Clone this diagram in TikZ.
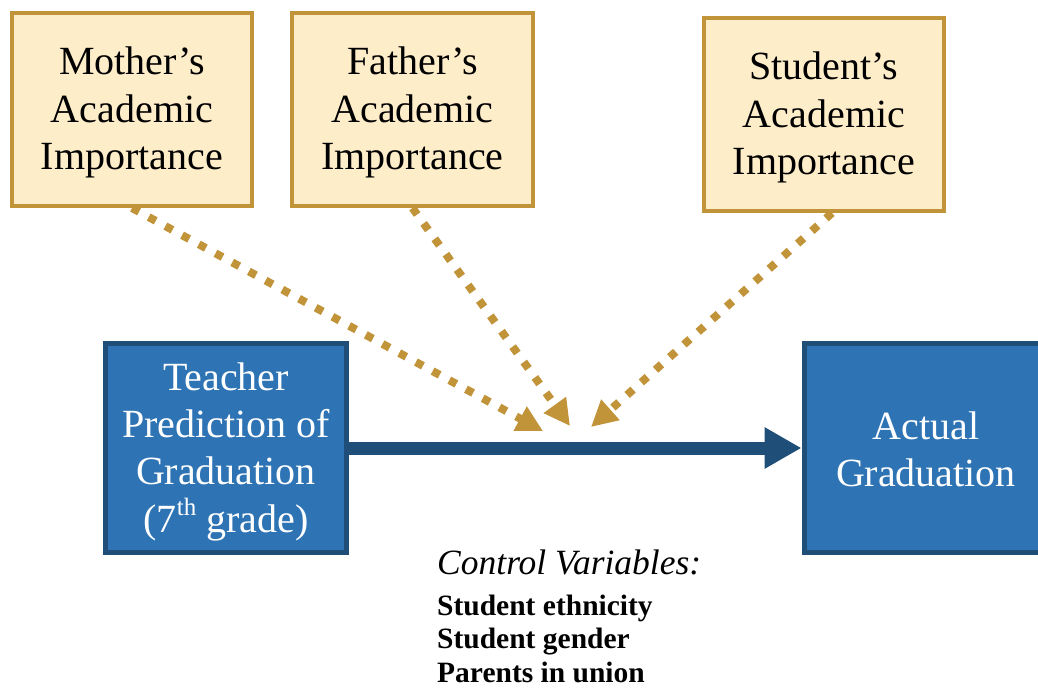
\documentclass[tikz,border=0pt]{standalone}
\usepackage{fontspec}
\setmainfont{Liberation Serif}
\usetikzlibrary{arrows.meta}

\definecolor{goldline}{HTML}{C1943A}
\definecolor{goldfill}{HTML}{FEEDC9}
\definecolor{bluefill}{HTML}{2E74B5}
\definecolor{blueline}{HTML}{1F4E79}

% stacked, centred lines; the first baseline sits #1 above the box centre
\newcommand{\boxlines}[2]{\raisebox{#1}[0pt][0pt]{\begin{tabular}[t]{@{}c@{}}#2\end{tabular}}}

\tikzset{
  factorbox/.style={draw=goldline, fill=goldfill, line width=4bp,
    minimum width=240bp, minimum height=193bp, inner sep=0pt,
    text=black, font=\fontsize{40bp}{47.5bp}\selectfont},
  outcomebox/.style={draw=blueline, fill=bluefill, line width=5bp,
    minimum height=209bp, inner sep=0pt,
    text=white, font=\fontsize{40bp}{47bp}\selectfont},
  moderator/.style={draw=goldline, line width=8bp, dash pattern=on 8bp off 11bp,
    -{Triangle[length=26bp,width=26bp]}},
  mainpath/.style={draw=blueline, line width=13bp,
    -{Triangle[length=37bp,width=39bp]}},
  cvhead/.style={anchor=base west, inner sep=0pt,
    font=\fontsize{35.5bp}{40bp}\selectfont\itshape},
  cvitem/.style={anchor=base west, inner sep=0pt,
    font=\fontsize{29.5bp}{34bp}\selectfont\bfseries}
}

\begin{document}
\begin{tikzpicture}[x=1bp,y=-1bp]
  \useasboundingbox (0,0) rectangle (1038,688);
  \clip (0,0) rectangle (1038,688);

  % moderating factors
  \node[factorbox] (mother) at (132,109.5)
    {\boxlines{34.5bp}{Mother’s\\Academic\\Importance}};
  \node[factorbox, minimum width=241bp] (father) at (412.5,109.5)
    {\boxlines{34.5bp}{Father’s\\Academic\\Importance}};
  \node[factorbox] (student) at (824,114.5)
    {\boxlines{34.5bp}{Student’s\\Academic\\Importance}};

  % predictor and outcome
  \node[outcomebox, minimum width=241bp] (teacher) at (226,448)
    {\boxlines{58bp}{Teacher\\Prediction of\\Graduation\\(7\raisebox{0.42em}{\fontsize{25bp}{25bp}\selectfont th} grade)}};
  \node[outcomebox, minimum width=256bp] (actual) at (932,448)
    {\hspace*{-12bp}\boxlines{9bp}{Actual\\Graduation}};

  % main effect
  \draw[mainpath] (teacher.east) -- (actual.west);

  % moderation arrows pointing at the main path
  \coordinate (mtip) at (543,431);
  \coordinate (ftip) at (570,426);
  \coordinate (stip) at (591,427);
  \draw[moderator] (mother.south) -- (mtip);
  \draw[moderator] (father.south) -- (ftip);
  \draw[moderator] ([xshift=8bp]student.south) -- (stip);

  % control variables
  \node[cvhead] (cv) at (437,574) {Control Variables:};
  \node[cvitem] (cv1) at (437,615) {Student ethnicity};
  \node[cvitem] (cv2) at (437,648.5) {Student gender};
  \node[cvitem] (cv3) at (437,682) {Parents in union};
\end{tikzpicture}
\end{document}
